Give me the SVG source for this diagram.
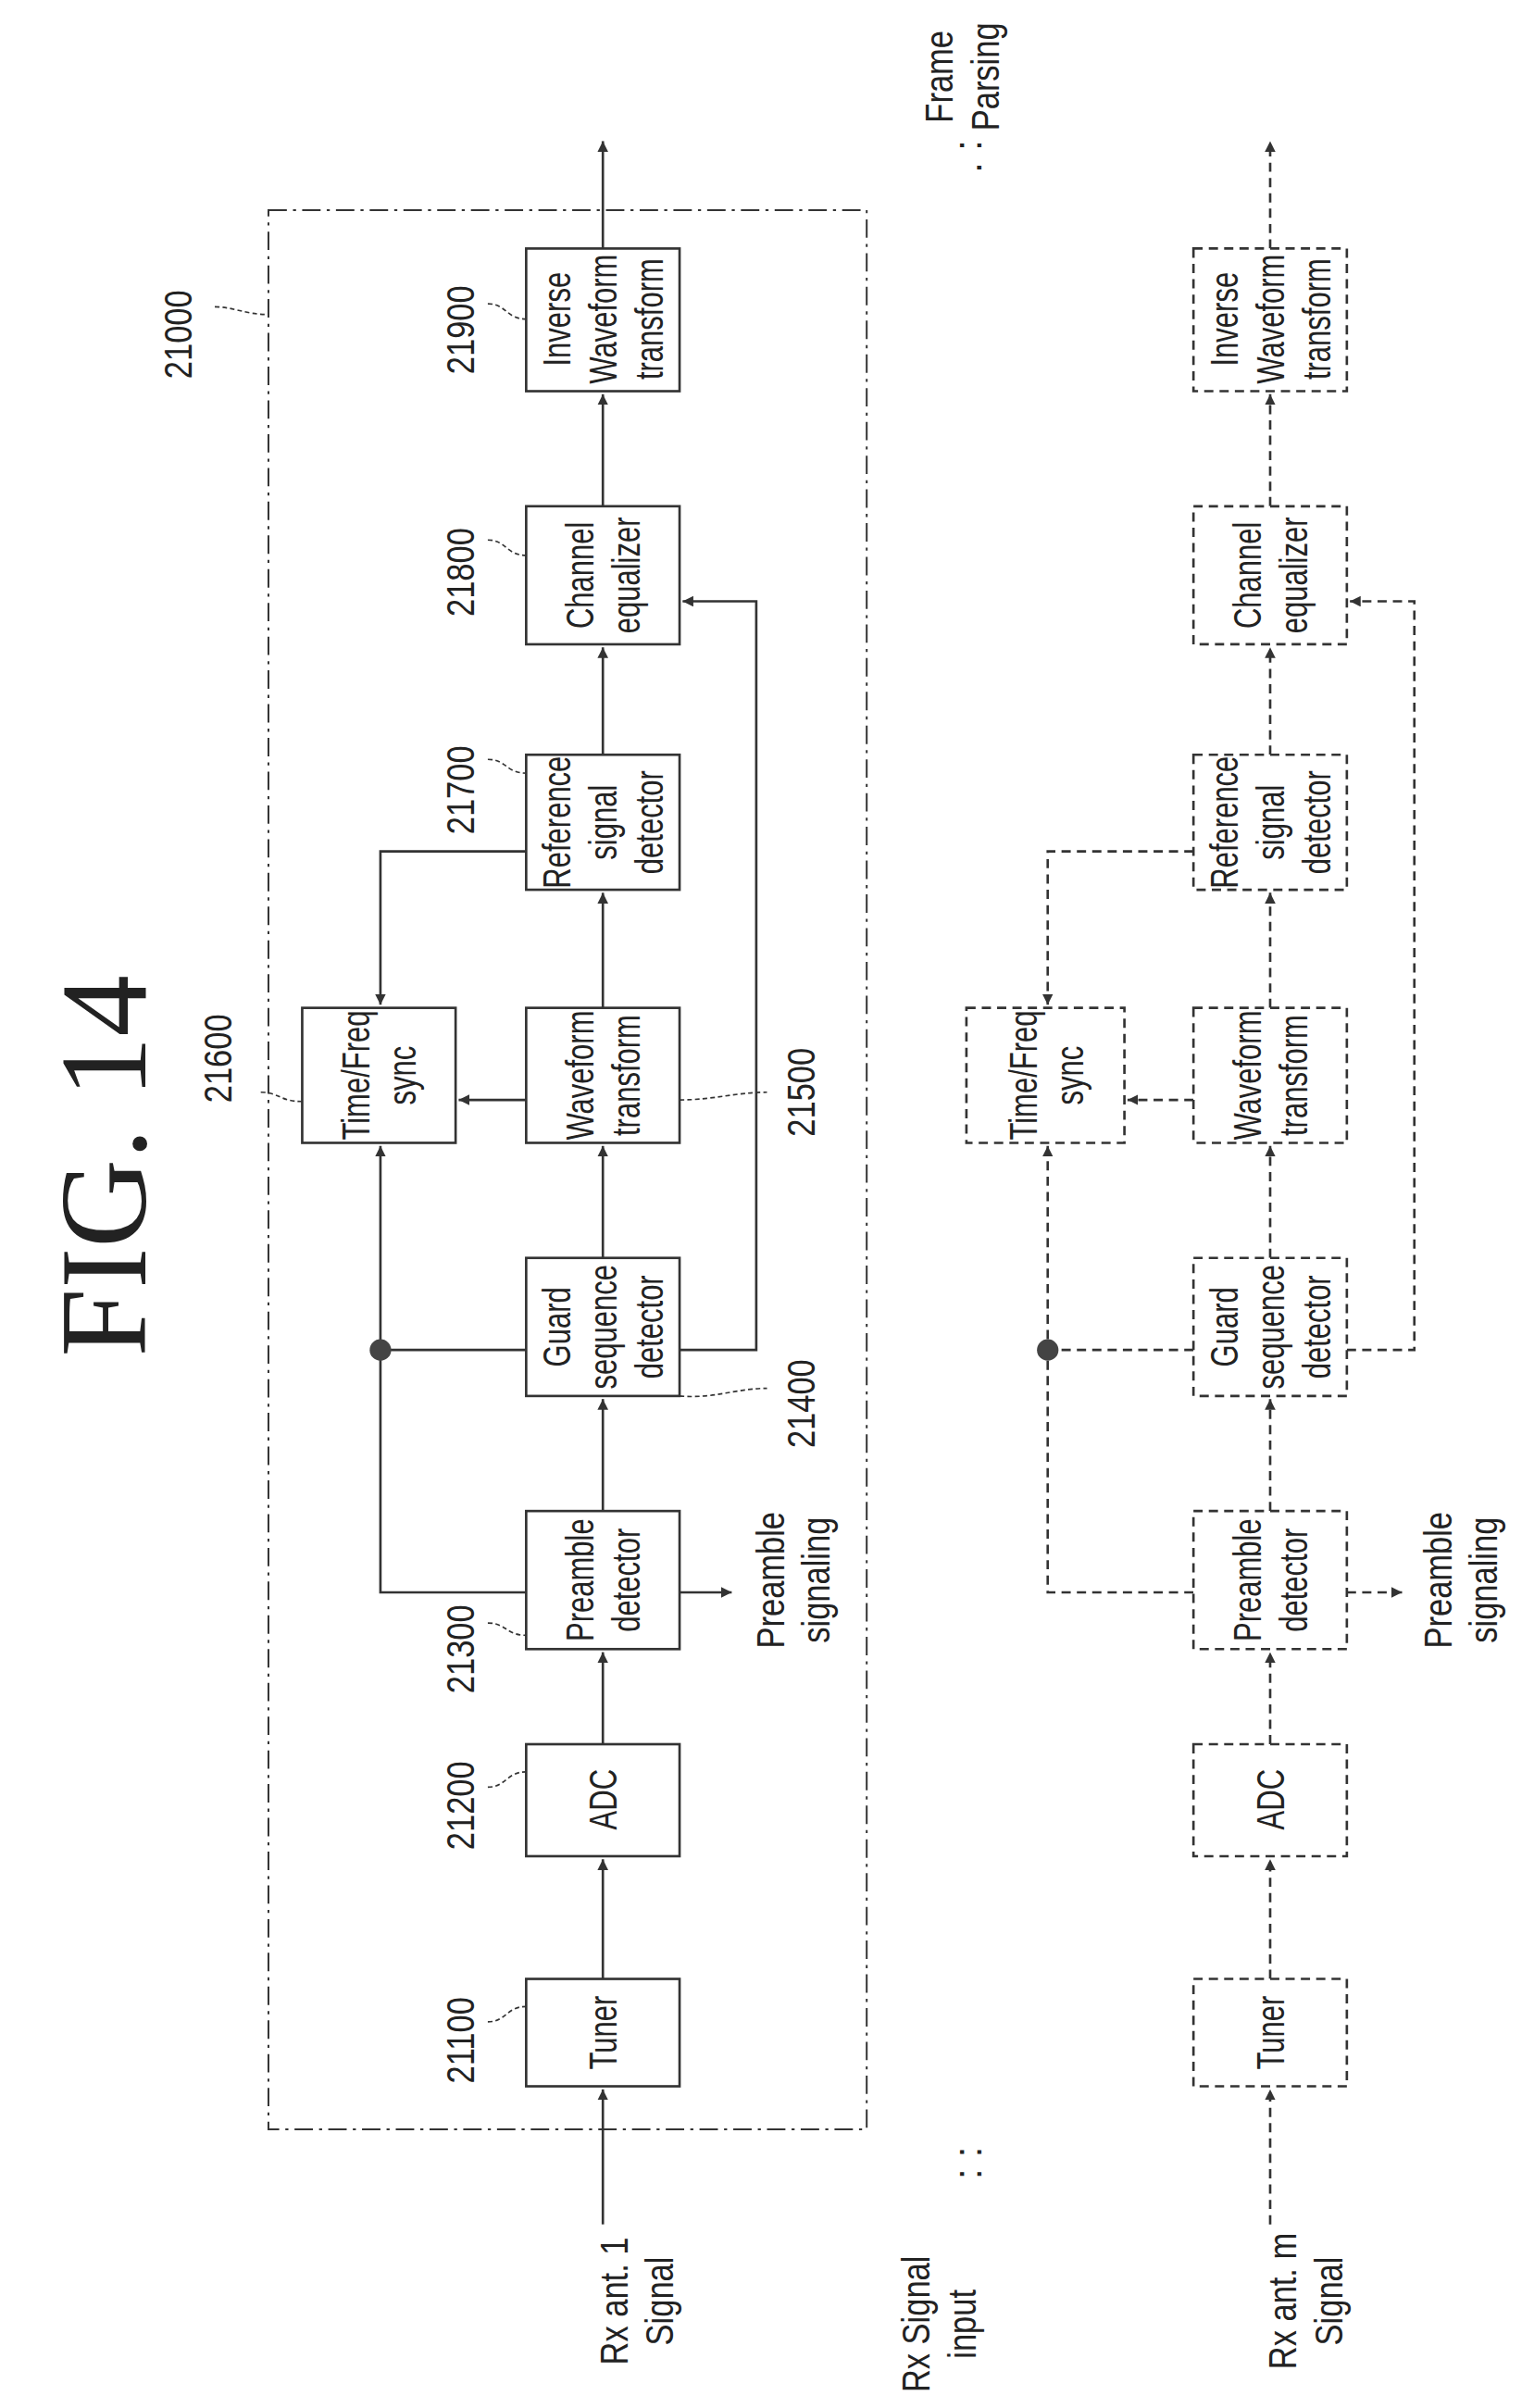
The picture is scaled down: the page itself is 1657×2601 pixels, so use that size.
<svg xmlns="http://www.w3.org/2000/svg" width="1657" height="2601" viewBox="0 0 1657 2601">
<style>
text{font-family:"Liberation Sans",sans-serif;font-size:26px;fill:#222;text-anchor:middle}
.b{fill:#fff;stroke:#333;stroke-width:1.6}
.d{fill:#fff;stroke:#333;stroke-width:1.6;stroke-dasharray:6 4}
.l{fill:none;stroke:#333;stroke-width:1.6}
.ld{fill:none;stroke:#333;stroke-width:1.6;stroke-dasharray:6 4}
.q{fill:none;stroke:#333;stroke-width:1;stroke-dasharray:3 2}
</style>
<defs>
<marker id="a" viewBox="0 0 10 10" refX="10" refY="5" markerWidth="7" markerHeight="7" orient="auto" markerUnits="userSpaceOnUse"><path d="M0,0 L10,5 L0,10 z" fill="#333"/></marker>
</defs>
<rect width="1657" height="2601" fill="#fff"/>
<g transform="scale(1.657)">
<text transform="translate(95,760) rotate(-90)" style="font-family:'Liberation Serif',serif;font-size:80px">FIG. 14</text>
<rect x="175" y="137" width="390" height="1251" fill="none" stroke="#333" stroke-width="1.2" stroke-dasharray="12 4 2 4"/>
<g id="connectors">
<path class="l" d="M393,1450 V1362" marker-end="url(#a)"/>
<path class="l" d="M393,1290 V1212" marker-end="url(#a)"/>
<path class="l" d="M393,1137 V1077" marker-end="url(#a)"/>
<path class="l" d="M393,985 V912" marker-end="url(#a)"/>
<path class="l" d="M393,820 V747" marker-end="url(#a)"/>
<path class="l" d="M393,657 V582" marker-end="url(#a)"/>
<path class="l" d="M393,492 V422" marker-end="url(#a)"/>
<path class="l" d="M393,330 V257" marker-end="url(#a)"/>
<path class="l" d="M393,162 V92" marker-end="url(#a)"/>
<path class="l" d="M343,1038 H248 V747" marker-end="url(#a)"/>
<path class="l" d="M343,880 H248"/>
<circle cx="248" cy="880" r="7" fill="#444"/>
<path class="l" d="M443,880 H493 V392 H445" marker-end="url(#a)"/>
<path class="l" d="M343,717 H299" marker-end="url(#a)"/>
<path class="l" d="M343,555 H248 V655" marker-end="url(#a)"/>
<path class="l" d="M443,1038 H477" marker-end="url(#a)"/>
<path class="ld" d="M828,1450 V1362" marker-end="url(#a)"/>
<path class="ld" d="M828,1290 V1212" marker-end="url(#a)"/>
<path class="ld" d="M828,1137 V1077" marker-end="url(#a)"/>
<path class="ld" d="M828,985 V912" marker-end="url(#a)"/>
<path class="ld" d="M828,820 V747" marker-end="url(#a)"/>
<path class="ld" d="M828,657 V582" marker-end="url(#a)"/>
<path class="ld" d="M828,492 V422" marker-end="url(#a)"/>
<path class="ld" d="M828,330 V257" marker-end="url(#a)"/>
<path class="ld" d="M828,162 V92" marker-end="url(#a)"/>
<path class="ld" d="M778,1038 H683 V747" marker-end="url(#a)"/>
<path class="ld" d="M778,880 H683"/>
<circle cx="683" cy="880" r="7" fill="#444"/>
<path class="ld" d="M878,880 H922 V392 H880" marker-end="url(#a)"/>
<path class="ld" d="M778,717 H735" marker-end="url(#a)"/>
<path class="ld" d="M778,555 H683 V655" marker-end="url(#a)"/>
<path class="ld" d="M878,1038 H914" marker-end="url(#a)"/>
<path class="q" d="M318,1318 C330,1318 330,1308 343,1308"/>
<path class="q" d="M318,1165 C330,1165 330,1155 343,1155"/>
<path class="q" d="M318,1058 C330,1058 330,1066 343,1066"/>
<path class="q" d="M318,495 C330,495 330,504 343,504"/>
<path class="q" d="M318,352 C330,352 330,362 343,362"/>
<path class="q" d="M318,198 C330,198 330,208 343,208"/>
<path class="q" d="M170,712 C182,712 182,718 197,718"/>
<path class="q" d="M140,200 C152,200 160,205 175,205"/>
<path class="q" d="M443,717 C465,717 480,712 500,712"/>
<path class="q" d="M443,910 C465,912 480,905 500,905"/>
</g>
<g id="labels">
<text transform="translate(409,1500) rotate(-90) scale(0.8,1)">Rx ant. 1</text>
<text transform="translate(439,1500) rotate(-90) scale(0.8,1)">Signal</text>
<text transform="translate(845,1500) rotate(-90) scale(0.8,1)">Rx ant. m</text>
<text transform="translate(875,1500) rotate(-90) scale(0.8,1)">Signal</text>
<text transform="translate(606,1515) rotate(-90) scale(0.8,1)">Rx Signal</text>
<text transform="translate(636,1515) rotate(-90) scale(0.8,1)">input</text>
<text transform="translate(640,1410) rotate(-90)">: :</text>
<text transform="translate(621,50) rotate(-90) scale(0.8,1)">Frame</text>
<text transform="translate(651,50) rotate(-90) scale(0.8,1)">Parsing</text>
<text transform="translate(640,102) rotate(-90)">. :</text>
<text transform="translate(511,1030) rotate(-90) scale(0.8,1)">Preamble</text>
<text transform="translate(541,1030) rotate(-90) scale(0.8,1)">signaling</text>
<text transform="translate(946,1030) rotate(-90) scale(0.8,1)">Preamble</text>
<text transform="translate(976,1030) rotate(-90) scale(0.8,1)">signaling</text>
<text transform="translate(309,1330) rotate(-90) scale(0.8,1)">21100</text>
<text transform="translate(309,1177) rotate(-90) scale(0.8,1)">21200</text>
<text transform="translate(309,1075) rotate(-90) scale(0.8,1)">21300</text>
<text transform="translate(309,515) rotate(-90) scale(0.8,1)">21700</text>
<text transform="translate(309,373) rotate(-90) scale(0.8,1)">21800</text>
<text transform="translate(309,215) rotate(-90) scale(0.8,1)">21900</text>
<text transform="translate(151,690) rotate(-90) scale(0.8,1)">21600</text>
<text transform="translate(125,218) rotate(-90) scale(0.8,1)">21000</text>
<text transform="translate(531,712) rotate(-90) scale(0.8,1)">21500</text>
<text transform="translate(531,915) rotate(-90) scale(0.8,1)">21400</text>
</g>
<g id="n21100"><rect class="b" x="343" y="1290" width="100" height="70"/><text transform="translate(402,1325) rotate(-90) scale(0.72,1)">Tuner</text></g>
<g id="n21200"><rect class="b" x="343" y="1137" width="100" height="73"/><text transform="translate(402,1173) rotate(-90) scale(0.72,1)">ADC</text></g>
<g id="n21300"><rect class="b" x="343" y="985" width="100" height="90"/><text transform="translate(387,1030) rotate(-90) scale(0.72,1)">Preamble</text><text transform="translate(417,1030) rotate(-90) scale(0.72,1)">detector</text></g>
<g id="n21400"><rect class="b" x="343" y="820" width="100" height="90"/><text transform="translate(372,865) rotate(-90) scale(0.72,1)">Guard</text><text transform="translate(402,865) rotate(-90) scale(0.72,1)">sequence</text><text transform="translate(432,865) rotate(-90) scale(0.72,1)">detector</text></g>
<g id="n21500"><rect class="b" x="343" y="657" width="100" height="88"/><text transform="translate(387,701) rotate(-90) scale(0.72,1)">Waveform</text><text transform="translate(417,701) rotate(-90) scale(0.72,1)">transform</text></g>
<g id="n21600"><rect class="b" x="197" y="657" width="100" height="88"/><text transform="translate(241,701) rotate(-90) scale(0.72,1)">Time/Freq</text><text transform="translate(271,701) rotate(-90) scale(0.72,1)">sync</text></g>
<g id="n21700"><rect class="b" x="343" y="492" width="100" height="88"/><text transform="translate(372,536) rotate(-90) scale(0.72,1)">Reference</text><text transform="translate(402,536) rotate(-90) scale(0.72,1)">signal</text><text transform="translate(432,536) rotate(-90) scale(0.72,1)">detector</text></g>
<g id="n21800"><rect class="b" x="343" y="330" width="100" height="90"/><text transform="translate(387,375) rotate(-90) scale(0.72,1)">Channel</text><text transform="translate(417,375) rotate(-90) scale(0.72,1)">equalizer</text></g>
<g id="n21900"><rect class="b" x="343" y="162" width="100" height="93"/><text transform="translate(372,208) rotate(-90) scale(0.72,1)">Inverse</text><text transform="translate(402,208) rotate(-90) scale(0.72,1)">Waveform</text><text transform="translate(432,208) rotate(-90) scale(0.72,1)">transform</text></g>
<g id="m1"><rect class="d" x="778" y="1290" width="100" height="70"/><text transform="translate(837,1325) rotate(-90) scale(0.72,1)">Tuner</text></g>
<g id="m2"><rect class="d" x="778" y="1137" width="100" height="73"/><text transform="translate(837,1173) rotate(-90) scale(0.72,1)">ADC</text></g>
<g id="m3"><rect class="d" x="778" y="985" width="100" height="90"/><text transform="translate(822,1030) rotate(-90) scale(0.72,1)">Preamble</text><text transform="translate(852,1030) rotate(-90) scale(0.72,1)">detector</text></g>
<g id="m4"><rect class="d" x="778" y="820" width="100" height="90"/><text transform="translate(807,865) rotate(-90) scale(0.72,1)">Guard</text><text transform="translate(837,865) rotate(-90) scale(0.72,1)">sequence</text><text transform="translate(867,865) rotate(-90) scale(0.72,1)">detector</text></g>
<g id="m5"><rect class="d" x="778" y="657" width="100" height="88"/><text transform="translate(822,701) rotate(-90) scale(0.72,1)">Waveform</text><text transform="translate(852,701) rotate(-90) scale(0.72,1)">transform</text></g>
<g id="m6"><rect class="d" x="630" y="657" width="103" height="88"/><text transform="translate(676,701) rotate(-90) scale(0.72,1)">Time/Freq</text><text transform="translate(706,701) rotate(-90) scale(0.72,1)">sync</text></g>
<g id="m7"><rect class="d" x="778" y="492" width="100" height="88"/><text transform="translate(807,536) rotate(-90) scale(0.72,1)">Reference</text><text transform="translate(837,536) rotate(-90) scale(0.72,1)">signal</text><text transform="translate(867,536) rotate(-90) scale(0.72,1)">detector</text></g>
<g id="m8"><rect class="d" x="778" y="330" width="100" height="90"/><text transform="translate(822,375) rotate(-90) scale(0.72,1)">Channel</text><text transform="translate(852,375) rotate(-90) scale(0.72,1)">equalizer</text></g>
<g id="m9"><rect class="d" x="778" y="162" width="100" height="93"/><text transform="translate(807,208) rotate(-90) scale(0.72,1)">Inverse</text><text transform="translate(837,208) rotate(-90) scale(0.72,1)">Waveform</text><text transform="translate(867,208) rotate(-90) scale(0.72,1)">transform</text></g>
</g>
</svg>
